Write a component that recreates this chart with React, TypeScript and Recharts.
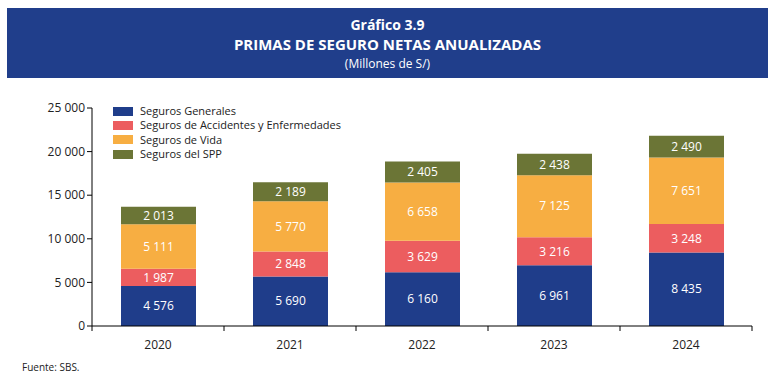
import { BarChart, Bar, XAxis, YAxis, LabelList } from "recharts";

const years = ["2020", "2021", "2022", "2023", "2024"];
const generales = [4576, 5690, 6160, 6961, 8435];
const accidentes = [1987, 2848, 3629, 3216, 3248];
const vida = [5111, 5770, 6658, 7125, 7651];
const spp = [2013, 2189, 2405, 2438, 2490];
const yTicks = [0, 5000, 10000, 15000, 20000, 25000];

const series = [
  { key: "generales", label: "Seguros Generales", color: "#1f3d8a" },
  { key: "accidentes", label: "Seguros de Accidentes y Enfermedades", color: "#ec5d5f" },
  { key: "vida", label: "Seguros de Vida", color: "#f7ae42" },
  { key: "spp", label: "Seguros del SPP", color: "#6b7536" },
];

const data = years.map((y, i) => ({
  year: y,
  generales: generales[i],
  accidentes: accidentes[i],
  vida: vida[i],
  spp: spp[i],
}));

const fmt = (v: number) => String(v).replace(/\B(?=(\d{3})+(?!\d))/g, " ");
const FONT = "'Open Sans', 'Noto Sans', sans-serif";

// ticks sit on the category boundaries, not the centres
function XTick(props: any) {
  const { x, y, payload, index } = props;
  const half = 66;
  return (
    <g>
      <line x1={x - half} y1={y - 8} x2={x - half} y2={y - 3} stroke="#000" />
      {index === years.length - 1 && <line x1={x + half} y1={y - 8} x2={x + half} y2={y - 3} stroke="#000" />}
      <text x={x} y={y + 15} textAnchor="middle" fontSize={12} fill="#222" fontFamily={FONT}>
        {payload.value}
      </text>
    </g>
  );
}

export default function App() {
  return (
    <div style={{ position: "absolute", left: 0, top: 0, width: 776, height: 384, background: "#fff", fontFamily: FONT }}>
      <div
        style={{
          position: "absolute", left: 7, top: 8, width: 761, height: 70, background: "#203e8b",
          color: "#fff", textAlign: "center",
        }}
      >
        <div style={{ fontSize: 14, fontWeight: 700, marginTop: 8, lineHeight: "18px" }}>Gráfico 3.9</div>
        <div style={{ fontSize: 15, fontWeight: 700, lineHeight: "21px" }}>PRIMAS DE SEGURO NETAS ANUALIZADAS</div>
        <div style={{ fontSize: 12, lineHeight: "17px" }}>(Millones de S/)</div>
      </div>

      <div style={{ position: "absolute", left: 0, top: 0 }}>
        <BarChart width={776} height={384} data={data} margin={{ top: 108, right: 24, bottom: 28, left: 12 }}>
          <XAxis
            dataKey="year"
            height={30}
            axisLine={{ stroke: "#000" }}
            tickLine={false}
            tick={<XTick />}
            interval={0}
          />
          <YAxis
            width={80}
            domain={[0, 25000]}
            ticks={yTicks}
            tickFormatter={fmt}
            axisLine={{ stroke: "#000" }}
            tickLine={{ stroke: "#000" }}
            tickSize={5}
            tick={{ fontSize: 12, fill: "#222", fontFamily: FONT }}
          />
          {series.map((s) => (
            <Bar key={s.key} dataKey={s.key} stackId="a" fill={s.color} barSize={75} isAnimationActive={false}>
              <LabelList
                dataKey={s.key}
                position="center"
                formatter={(v: any) => fmt(Number(v))}
                style={{ fill: "#fff", fontSize: 12, fontFamily: FONT }}
              />
            </Bar>
          ))}
        </BarChart>
      </div>

      <div style={{ position: "absolute", left: 113, top: 104, fontSize: 11, color: "#222", lineHeight: "14.3px" }}>
        {series.map((s) => (
          <div key={s.key} style={{ display: "flex", alignItems: "center" }}>
            <span style={{ display: "inline-block", width: 20, height: 9, background: s.color, marginRight: 7 }} />
            <span>{s.label}</span>
          </div>
        ))}
      </div>

      <div style={{ position: "absolute", left: 22, top: 360, fontSize: 10, color: "#222" }}>Fuente: SBS.</div>
    </div>
  );
}
